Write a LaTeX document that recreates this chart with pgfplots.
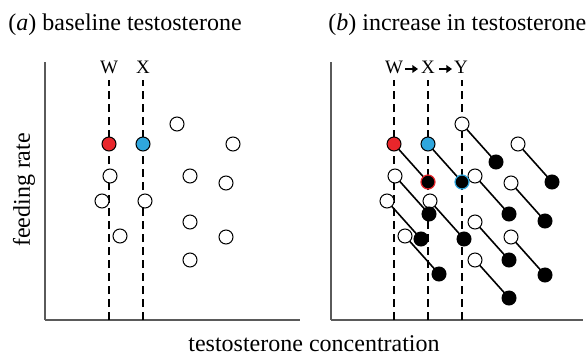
\documentclass[border=0pt]{standalone}
\usepackage{pgfplots}
\pgfplotsset{compat=1.18}
\usepackage{fontspec}
\setmainfont{Liberation Serif}
\usetikzlibrary{arrows.meta}
\definecolor{cred}{HTML}{E8262B}
\definecolor{cblue}{HTML}{2FA6DD}
\definecolor{axgray}{HTML}{5A5A5A}
\pgfplotsset{
  panel/.style={
    scale only axis, anchor=south west,
    height=129pt, ymin=0, ymax=258,
    axis x line=bottom, axis y line=left,
    axis line style={-, draw=axgray, line width=0.8pt},
    ticks=none, clip=false,
  },
  dline/.style={black, line width=1pt, dash pattern=on 4pt off 2.5pt, forget plot},
  openm/.style={only marks, mark=*, mark size=3.5pt, mark options={fill=white, draw=black, line width=0.5pt}},
  fillm/.style={only marks, mark=*, mark size=3.5pt, mark options={fill=black, draw=black, line width=0.5pt}},
}
\begin{document}
\fontsize{12}{14}\selectfont
\begin{tikzpicture}[x=0.5pt,y=0.5pt]
\useasboundingbox (0,0) rectangle (587,355);
\node[anchor=base west, inner sep=0pt] at (8,325) {(\textit{a}) baseline testosterone};
\node[anchor=base west, inner sep=0pt] at (328,325) {(\textit{b}) increase in testosterone};
\node[anchor=base, inner sep=0pt] at (314,4) {testosterone concentration};
\node[rotate=90, inner sep=0pt] at (24,165) {feeding rate};
% panel (a)
\begin{axis}[panel, at={(22.5pt,17.5pt)}, width=127.5pt, xmin=0, xmax=255]
\addplot[dline] coordinates {(64,0) (64,240)};
\addplot[dline] coordinates {(98,0) (98,240)};
\addplot[openm] coordinates {(132,196) (188,176) (65,144) (145,144) (181,137) (57,119) (100,119) (145,98) (75,84) (181,83) (145,60)};
\addplot[only marks, mark=*, mark size=3.5pt, mark options={fill=cred, draw=black, line width=0.5pt}] coordinates {(64,176)};
\addplot[only marks, mark=*, mark size=3.5pt, mark options={fill=cblue, draw=black, line width=0.5pt}] coordinates {(98,176)};
\node[anchor=base, inner sep=0pt, font=\fontsize{9.5}{11}\selectfont] at (axis cs:64,246) {W};
\node[anchor=base, inner sep=0pt, font=\fontsize{9.5}{11}\selectfont] at (axis cs:98,246) {X};
\end{axis}
% panel (b)
\begin{axis}[panel, at={(165.5pt,17.5pt)}, width=126pt, xmin=0, xmax=252]
\addplot[dline] coordinates {(63,0) (63,240)};
\addplot[dline] coordinates {(97,0) (97,240)};
\addplot[dline] coordinates {(131,0) (131,240)};
\addplot[black, line width=0.8pt, unbounded coords=jump] coordinates {
 (63,176) (97,138) (nan,nan)
 (97,176) (131,138) (nan,nan)
 (131,196) (165,158) (nan,nan)
 (187,176) (221,138) (nan,nan)
 (64,144) (98,106) (nan,nan)
 (144,144) (178,106) (nan,nan)
 (180,137) (214,99) (nan,nan)
 (56,119) (90,81) (nan,nan)
 (99,119) (133,81) (nan,nan)
 (144,98) (178,60) (nan,nan)
 (74,84) (108,46) (nan,nan)
 (180,83) (214,45) (nan,nan)
 (144,60) (178,22)};
\addplot[openm] coordinates {(131,196) (187,176) (64,144) (144,144) (180,137) (56,119) (99,119) (144,98) (74,84) (180,83) (144,60)};
\addplot[only marks, mark=*, mark size=3.5pt, mark options={fill=cred, draw=black, line width=0.5pt}] coordinates {(63,176)};
\addplot[only marks, mark=*, mark size=3.5pt, mark options={fill=cblue, draw=black, line width=0.5pt}] coordinates {(97,176)};
\addplot[fillm] coordinates {(165,158) (221,138) (98,106) (178,106) (214,99) (90,81) (133,81) (178,60) (108,46) (214,45) (178,22)};
\addplot[only marks, mark=*, mark size=3.5pt, mark options={fill=black, draw=cred, line width=0.6pt}] coordinates {(97,138)};
\addplot[only marks, mark=*, mark size=3.5pt, mark options={fill=black, draw=cblue, line width=0.6pt}] coordinates {(131,138)};
\node[anchor=base, inner sep=0pt, font=\fontsize{9.5}{11}\selectfont] at (axis cs:63,246) {W};
\node[anchor=base, inner sep=0pt, font=\fontsize{9.5}{11}\selectfont] at (axis cs:97,246) {X};
\node[anchor=base, inner sep=0pt, font=\fontsize{9.5}{11}\selectfont] at (axis cs:130,246) {Y};
\draw[-{Triangle[length=2.8pt,width=3.8pt]}, line width=1.3pt] (axis cs:74,251) -- (axis cs:87,251);
\draw[-{Triangle[length=2.8pt,width=3.8pt]}, line width=1.3pt] (axis cs:108,251) -- (axis cs:121,251);
\end{axis}
\end{tikzpicture}
\end{document}
